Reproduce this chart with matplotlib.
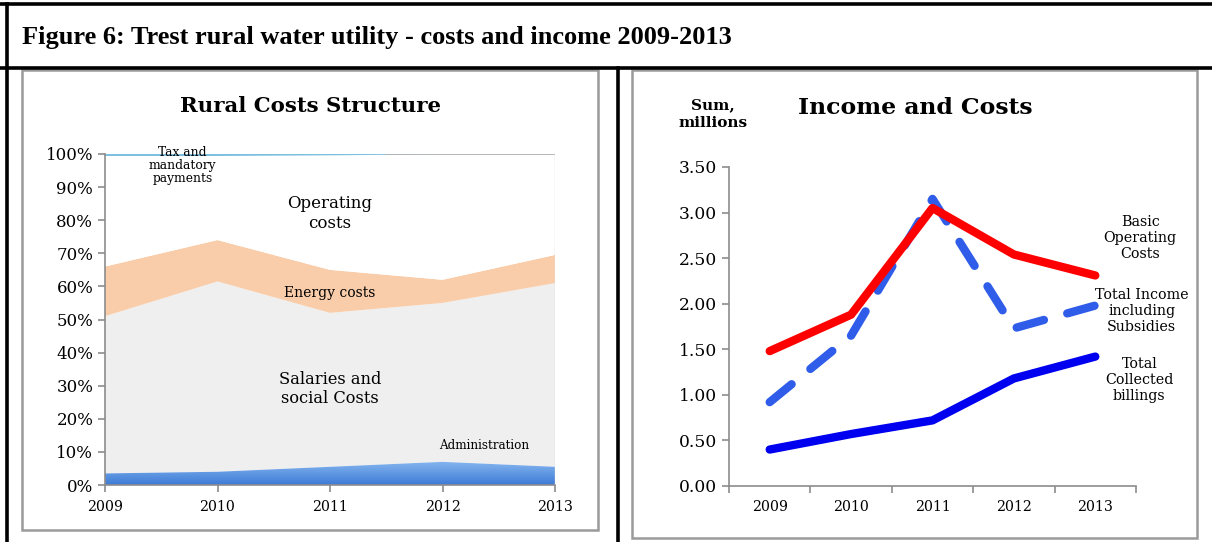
import numpy as np
import matplotlib.pyplot as plt
from matplotlib.patches import Rectangle
from matplotlib.lines import Line2D
from matplotlib.colors import LinearSegmentedColormap

plt.rcParams['font.family'] = ['DejaVu Serif']

# cost structure shares, percent of total
years = ['2009', '2010', '2011', '2012', '2013']
administration = [3.5, 4.0, 5.5, 7.0, 5.5]
salaries = [47.5, 57.5, 46.5, 48.0, 55.5]
energy = [15.0, 12.5, 13.0, 7.0, 8.5]
operating = [33.4, 25.4, 34.6, 37.9, 30.4]
tax = [0.6, 0.6, 0.4, 0.1, 0.1]

# income and costs, millions
basic_operating = [1.48, 1.88, 3.05, 2.54, 2.31]
total_income = [0.92, 1.65, 3.15, 1.73, 1.98]
collected_billings = [0.40, 0.57, 0.72, 1.18, 1.42]

W, H = 1212, 542
fig = plt.figure(figsize=(W / 100, H / 100), dpi=100)


def fx(px):
    return px / W


def fy(py):
    return 1 - py / H


# page frame
for xs, ys in [([0, 1], [fy(4), fy(4)]), ([0, 1], [fy(68), fy(68)]),
               ([fx(7), fx(7)], [0, fy(4)]), ([fx(618), fx(618)], [0, fy(68)])]:
    fig.add_artist(Line2D(xs, ys, color='black', lw=2.6, transform=fig.transFigure))

fig.text(fx(22), fy(38), 'Figure 6: Trest rural water utility - costs and income 2009-2013',
         fontsize=19, fontweight='bold', va='center', ha='left', family='Liberation Serif')

# chart boxes
for x0, y0, x1, y1 in [(22, 70, 598, 530), (632, 70, 1197, 538)]:
    fig.add_artist(Rectangle((fx(x0), fy(y1)), fx(x1 - x0), (y1 - y0) / H,
                             fill=False, edgecolor='#9a9a9a', lw=1.8,
                             transform=fig.transFigure))

# ---- left: stacked area ----
ax1 = fig.add_axes([fx(105), fy(485), fx(450), (485 - 154) / H])
x = np.arange(len(years))
layers = [administration, salaries, energy, operating, tax]
colors = [None, '#efefef', '#f9cdaa', '#ffffff', '#7cc0e0']
base = np.zeros(len(years))
polys = []
for vals, col in zip(layers, colors):
    top = base + np.array(vals)
    if col is None:
        p = ax1.fill_between(x, base, top, facecolor='none', lw=0)
    else:
        p = ax1.fill_between(x, base, top, facecolor=col, lw=0)
    polys.append(p)
    base = top

# gradient fill for administration
cmap = LinearSegmentedColormap.from_list('adm', ['#3d7bd6', '#86b6ef'])
grad = np.linspace(0, 1, 100).reshape(-1, 1)
im = ax1.imshow(grad, cmap=cmap, origin='lower', aspect='auto',
                extent=[0, 4, 0, max(administration)], zorder=1)
im.set_clip_path(polys[0].get_paths()[0], transform=ax1.transData)

ax1.plot([2.5, 4], [100, 100], color='#b0b0b0', lw=1.2, zorder=3)
ax1.plot([4, 4], [0, 100], color='#dddddd', lw=1, zorder=3)

ax1.set_xlim(0, 4)
ax1.set_ylim(0, 100)
ax1.set_xticks(x)
ax1.set_xticklabels(years, fontsize=10.2)
ax1.set_yticks(np.arange(0, 101, 10))
ax1.set_yticklabels([f'{v}%' for v in range(0, 101, 10)], fontsize=12)
for s in ['top', 'right']:
    ax1.spines[s].set_visible(False)
for s in ['left', 'bottom']:
    ax1.spines[s].set_color('#8c8c8c')
    ax1.spines[s].set_linewidth(1.2)
ax1.tick_params(colors='#8c8c8c', labelcolor='black', length=5, width=1.2)
ax1.tick_params(axis='x', pad=6)

ax1.text(0.69, 96.4, 'Tax and\nmandatory\npayments', fontsize=8.8, ha='center', va='center',
         linespacing=1.0)
ax1.text(2, 82, 'Operating\ncosts', fontsize=12, ha='center', va='center')
ax1.text(2, 58, 'Energy costs', fontsize=10, ha='center', va='center')
ax1.text(2, 29, 'Salaries and\nsocial Costs', fontsize=11.7, ha='center', va='center')
ax1.text(3.37, 12, 'Administration', fontsize=8.6, ha='center', va='center')

fig.text(fx(310), fy(106), 'Rural Costs Structure', fontsize=15.3, fontweight='bold',
         ha='center', va='center')

# ---- right: income and costs ----
ax2 = fig.add_axes([fx(729), fy(486), fx(407), (486 - 167) / H])
ax2.plot(x, basic_operating, color='#ff0000', lw=6, solid_capstyle='round',
         solid_joinstyle='round', zorder=3)
ax2.plot(x, total_income, color='#2f5de9', lw=6, dashes=(3.4, 2.9),
         dash_capstyle='round', zorder=2)
ax2.plot(x, collected_billings, color='#0000f0', lw=6, solid_capstyle='round',
         solid_joinstyle='round', zorder=3)

ax2.set_xlim(-0.5, 4.5)
ax2.set_ylim(0, 3.5)
ax2.set_xticks(np.arange(-0.5, 4.6, 1))
ax2.set_xticklabels([])
ax2.set_xticks(x, minor=True)
ax2.set_xticklabels(years, minor=True, fontsize=10.2)
ax2.tick_params(axis='x', which='minor', length=0, pad=10)
ax2.set_yticks(np.arange(0, 3.51, 0.5))
ax2.set_yticklabels([f'{v:.2f}' for v in np.arange(0, 3.51, 0.5)], fontsize=12.3)
for s in ['top', 'right']:
    ax2.spines[s].set_visible(False)
for s in ['left', 'bottom']:
    ax2.spines[s].set_color('#8c8c8c')
    ax2.spines[s].set_linewidth(1.2)
ax2.tick_params(which='major', colors='#8c8c8c', labelcolor='black', length=5, width=1.2)

ax2.text(4.55, 2.72, 'Basic\nOperating\nCosts', fontsize=10.3, ha='center', va='center',
         clip_on=False)
ax2.text(4.57, 1.92, 'Total Income\nincluding\nSubsidies', fontsize=10.3, ha='center',
         va='center', clip_on=False)
ax2.text(4.54, 1.16, 'Total\nCollected\nbillings', fontsize=10.3, ha='center', va='center',
         clip_on=False)

fig.text(fx(915), fy(108), 'Income and Costs', fontsize=16.9, fontweight='bold',
         ha='center', va='center')
fig.text(fx(713), fy(114), 'Sum,\nmillions', fontsize=11, fontweight='bold',
         ha='center', va='center', linespacing=1.4)

fig.savefig('out.png', dpi=100)
